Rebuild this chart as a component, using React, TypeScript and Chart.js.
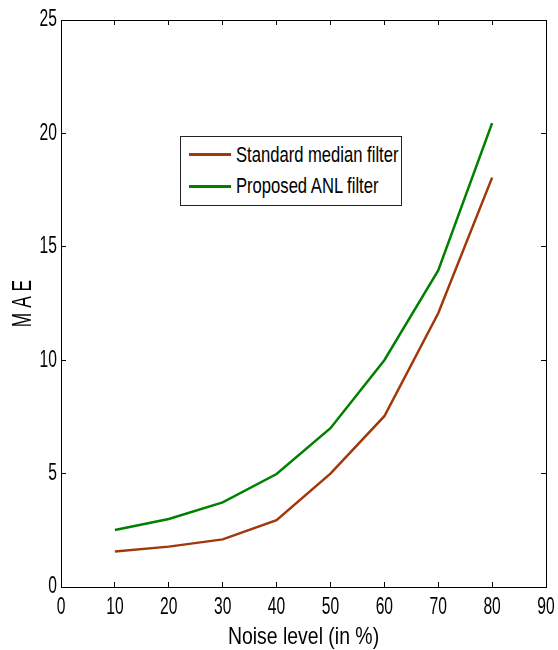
import React, { useEffect, useRef } from "react";
import { Chart, registerables } from "chart.js";

Chart.register(...registerables);

const noiseLevels = [10, 20, 30, 40, 50, 60, 70, 80];
const medianMAE = [1.57, 1.78, 2.1, 2.95, 5.0, 7.53, 12.07, 18.05];
const anlMAE = [2.51, 3.0, 3.73, 4.98, 7.0, 10.0, 13.96, 20.45];
const seriesNames = ["Standard median filter", "Proposed ANL filter"];
const seriesColors = ["#a0380a", "#008000"];

const FONT = '"Liberation Sans", Arial, sans-serif';
// horizontal condensing of text (the reference uses a narrow face), keyed by font size
const SQUEEZE: Record<number, number> = { 23: 0.68, 24: 0.81, 28: 0.62 };

export default function App() {
  const canvasRef = useRef<HTMLCanvasElement | null>(null);

  useEffect(() => {
    const canvas = canvasRef.current;
    if (!canvas) return;
    const ctx = canvas.getContext("2d") as CanvasRenderingContext2D;
    const origFill = ctx.fillText.bind(ctx);
    const origMeasure = ctx.measureText.bind(ctx);
    const squeeze = () => {
      const m = /(\d+(?:\.\d+)?)px/.exec(ctx.font);
      const size = m ? Math.round(parseFloat(m[1])) : 0;
      return SQUEEZE[size] ?? 1;
    };
    (ctx as any).fillText = (text: string, x: number, y: number, maxWidth?: number) => {
      const k = squeeze();
      if (k === 1) return maxWidth === undefined ? origFill(text, x, y) : origFill(text, x, y, maxWidth);
      ctx.save();
      ctx.translate(x, y);
      ctx.scale(k, 1);
      origFill(text, 0, 0);
      ctx.restore();
    };
    (ctx as any).measureText = (text: string) => {
      const k = squeeze();
      const m = origMeasure(text);
      return { width: m.width * k, actualBoundingBoxAscent: m.actualBoundingBoxAscent, actualBoundingBoxDescent: m.actualBoundingBoxDescent };
    };

    const toPts = (ys: number[]) => noiseLevels.map((x, i) => ({ x, y: ys[i] }));
    const tickGrid = { drawOnChartArea: false, tickLength: -5, color: "#000", lineWidth: 1 };
    const border = { display: true, color: "#000", width: 1 };
    const noPad = (s: any) => {
      s.paddingLeft = 0;
      s.paddingRight = 0;
      s.paddingTop = 0;
      s.paddingBottom = 0;
    };
    const chart = new Chart(canvas, {
      type: "line",
      data: {
        datasets: [
          {
            label: seriesNames[0],
            data: toPts(medianMAE),
            borderColor: seriesColors[0],
            backgroundColor: seriesColors[0],
            borderWidth: 2.5,
            pointRadius: 0,
            tension: 0,
          },
          {
            label: seriesNames[1],
            data: toPts(anlMAE),
            borderColor: seriesColors[1],
            backgroundColor: seriesColors[1],
            borderWidth: 2.5,
            pointRadius: 0,
            tension: 0,
          },
        ],
      },
      options: {
        animation: false,
        responsive: true,
        maintainAspectRatio: false,
        layout: { padding: { top: 20, right: 12, left: 0, bottom: 0 } },
        plugins: { legend: { display: false }, tooltip: { enabled: false } },
        scales: {
          x: {
            type: "linear",
            position: "bottom",
            min: 0,
            max: 90,
            ticks: { stepSize: 10, padding: 12, color: "#000", maxRotation: 0, font: { family: FONT, size: 23, lineHeight: 1.2 } },
            grid: tickGrid,
            border,
            title: {
              display: true,
              text: "Noise level (in %)",
              color: "#000",
              font: { family: FONT, size: 24, lineHeight: 1.2 },
              padding: { top: 0, bottom: -2 },
            },
            afterFit: (s: any) => {
              s.height = 63;
              noPad(s);
            },
          },
          x2: {
            type: "linear",
            position: "top",
            min: 0,
            max: 90,
            ticks: { stepSize: 10, display: false },
            grid: tickGrid,
            border,
            afterFit: (s: any) => {
              s.height = 0;
              noPad(s);
            },
          },
          y: {
            type: "linear",
            position: "left",
            min: 0,
            max: 25,
            ticks: { stepSize: 5, padding: 9, color: "#000", font: { family: FONT, size: 23, lineHeight: 1.2 } },
            grid: tickGrid,
            border,
            title: {
              display: true,
              text: "M A E",
              color: "#000",
              font: { family: FONT, size: 28, lineHeight: 1.2 },
              padding: { top: 6, bottom: 0 },
            },
            afterFit: (s: any) => {
              s.width = 61;
              noPad(s);
            },
          },
          y2: {
            type: "linear",
            position: "right",
            min: 0,
            max: 25,
            ticks: { stepSize: 5, display: false },
            grid: tickGrid,
            border,
            afterFit: (s: any) => {
              s.width = 0;
              noPad(s);
            },
          },
        },
      },
    });
    return () => chart.destroy();
  }, []);

  return (
    <div style={{ position: "absolute", left: 0, top: 0, width: 558, height: 650, background: "#fff" }}>
      <canvas ref={canvasRef} />
      <div
        style={{
          position: "absolute",
          left: 180,
          top: 136,
          width: 220,
          height: 68,
          border: "1px solid #222",
          background: "#fff",
          fontFamily: FONT,
          fontSize: 22,
          color: "#000",
        }}
      >
        {seriesNames.map((name, i) => (
          <div
            key={name}
            style={{
              position: "absolute",
              left: 8,
              top: i === 0 ? 2.5 : 34,
              height: 30,
              display: "flex",
              alignItems: "center",
            }}
          >
            <div style={{ width: 42, height: 3, background: seriesColors[i], marginRight: 5, flex: "none" }} />
            <span
              style={{
                whiteSpace: "nowrap",
                lineHeight: "30px",
                display: "inline-block",
                transform: "scaleX(0.755)",
                transformOrigin: "left center",
              }}
            >
              {name}
            </span>
          </div>
        ))}
      </div>
    </div>
  );
}
